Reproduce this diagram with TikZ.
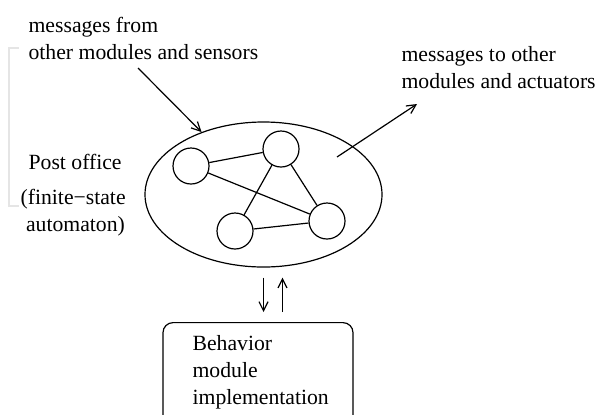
\documentclass[tikz,border=0pt]{standalone}
\usepackage{fontspec}
\setmainfont{Liberation Serif}
\usetikzlibrary{shapes.geometric,arrows.meta,calc}

\begin{document}
\begin{tikzpicture}
% one unit is one pixel of the original figure, y running down
[x=0.5pt,y=-0.5pt,line width=0.6pt,
 every node/.style={font=\fontsize{10.85}{13.5}\selectfont},
 state/.style={draw,circle,minimum size=18pt,inner sep=0pt},
 lbl/.style={anchor=north west,align=left,inner sep=0pt},
 msg/.style={-{Straight Barb[length=4.5pt,width=4.5pt]}}]
\useasboundingbox (0,0) rectangle (597,414);
%faint bracket at the left margin
\draw[black!10,line width=0.8pt] (19,48) -- (9,48) -- (9,206) -- (19,206);
%The post office and its automaton:
\node[draw,ellipse,minimum width=118.5pt,minimum height=72.5pt,inner sep=0pt] (post) at (263.5,194.5) {};
\node[state] (s1) at (191,166) {};
\node[state] (s2) at (281,149) {};
\node[state] (s3) at (235,231) {};
\node[state] (s4) at (327,221) {};
\draw (s1) -- (s2);
\draw (s1) -- (s4);
\draw (s2) -- (s3);
\draw (s2) -- (s4);
\draw (s3) -- (s4);
%Texts round it:
\node[lbl] (inlbl) at (28,17) {messages from\\other modules and sensors};
\node[lbl] (outlbl) at (401,46) {messages to other\\modules and actuators};
\node[lbl] (postlbl) at (28,154) {Post office};
\node[lbl] (fsalbl) at (20,189) {(finite−state\\\ automaton)};
%Messages in and out:
\coordinate (src) at (138,68);
\coordinate (snk) at (337,157);
\coordinate (dst) at (417,104);
\draw[msg] (src) -- (post);
\draw[msg] (snk) -- (dst);
%The behavior module below:
\node[draw,rounded corners=5pt,minimum width=95pt,minimum height=55pt,anchor=north] (behav) at (258,322) {};
\node[lbl] (behavlbl) at (192,335) {Behavior\\module\\implementation};
\draw[msg] ($(post.south)+(0,10)$) -- ($(post.south |- behav.north)+(0,-10)$);
\draw[msg] ($(post.south |- behav.north)+(19,-10)$) -- ($(post.south)+(19,10)$);
\end{tikzpicture}
\end{document}
